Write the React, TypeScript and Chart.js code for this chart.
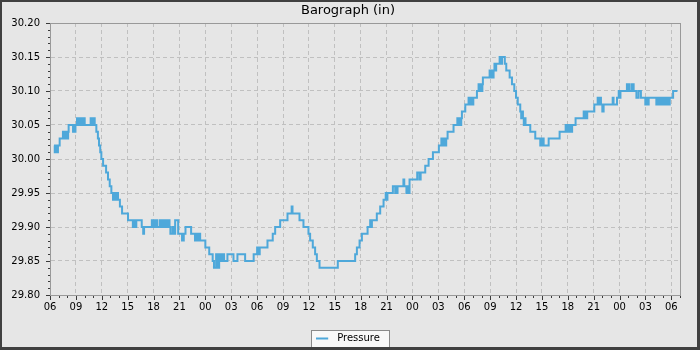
import React, { useEffect, useRef } from 'react';
import { Chart, registerables } from 'chart.js';

Chart.register(...registerables);

const TITLE = 'Barograph (in)';
const SERIES_LABEL = 'Pressure';
const LINE_COLOR = '#4ea8da';
const FONT = 'DejaVu Sans';

// hours elapsed since 06:00 on the first day
const hoursSinceStart = [
  0.46, 0.55, 0.7, 0.8, 0.92, 1.12, 1.5, 1.6, 1.7, 1.8, 1.9, 2.0, 2.1, 2.16, 2.67, 2.75, 2.85, 2.95,
  3.13, 3.3, 3.4, 3.55, 3.65, 3.75, 3.85, 4.02, 4.71, 4.8, 4.9, 5.0, 5.1, 5.18, 5.37, 5.55, 5.68, 5.82,
  5.95, 6.15, 6.5, 6.72, 6.92, 7.11, 7.3, 7.45, 7.6, 7.75, 7.88, 8.1, 8.35, 9.04, 9.6, 9.75, 9.85, 10.0,
  10.63, 10.8, 10.9, 11.8, 11.95, 12.05, 12.2, 12.3, 12.4, 12.7, 12.85, 12.95, 13.1, 13.2, 13.33, 13.45,
  13.6, 13.7, 13.85, 13.95, 14.2, 14.3, 14.5, 14.85, 15.3, 15.5, 15.7, 16.35, 16.8, 16.9, 17.0, 17.1,
  17.2, 17.3, 17.4, 18.0, 18.45, 18.85, 19.0, 19.25, 19.4, 19.6, 19.75, 19.85, 19.95, 20.05, 20.17,
  20.56, 21.26, 21.72, 22.61, 23.6, 24.0, 24.15, 24.3, 25.2, 25.81, 26.09, 26.67, 27.52, 28.0, 28.1,
  28.91, 29.37, 29.95, 30.14, 30.45, 30.72, 30.92, 31.23, 33.35, 35.36, 35.56, 35.87, 36.14, 36.8,
  37.1, 37.2, 37.3, 37.87, 38.26, 38.65, 38.9, 39.0, 39.1, 39.73, 40.0, 40.1, 40.2, 40.27, 40.95, 41.05,
  41.3, 41.45, 41.55, 41.66, 42.55, 42.8, 42.95, 43.48, 43.87, 44.37, 45.06, 45.35, 45.5, 45.6, 45.75,
  45.91, 46.07, 46.76, 47.2, 47.35, 47.45, 47.55, 47.65, 47.73, 48.12, 48.5, 48.7, 48.85, 48.95, 49.05,
  49.47, 49.66, 49.8, 49.9, 50.0, 50.1, 50.16, 50.94, 51.05, 51.15, 51.25, 51.4, 51.5, 51.6, 51.7,
  52.1, 52.3, 52.38, 52.7, 52.87, 53.26, 53.53, 53.8, 54.0, 54.2, 54.49, 54.6, 54.7, 54.8, 54.9, 55.0,
  55.1, 55.65, 56.23, 56.81, 56.9, 57.0, 57.1, 57.2, 57.78, 59.05, 59.75, 59.9, 60.0, 60.15, 60.3,
  60.4, 60.5, 60.9, 61.84, 61.9, 62.0, 62.15, 62.25, 63.07, 63.46, 63.6, 63.7, 63.84, 64.0, 64.15,
  65.2, 65.3, 65.7, 65.9, 66.0, 66.1, 66.85, 67.0, 67.05, 67.17, 67.44, 67.63, 67.95, 68.2, 68.47,
  68.98, 69.1, 69.2, 69.37, 70.26, 70.4, 70.55, 70.7, 70.85, 71.0, 71.15, 71.3, 71.45, 71.6, 71.7,
  71.81, 72.2, 72.7,
];

// barometric pressure, inches of mercury
const pressureIn = [
  30.02, 30.01, 30.02, 30.01, 30.02, 30.03, 30.04, 30.03, 30.04, 30.03, 30.04, 30.03, 30.04, 30.05, 30.04, 30.05, 30.04, 30.05,
  30.06, 30.05, 30.06, 30.05, 30.06, 30.05, 30.06, 30.05, 30.06, 30.05, 30.06, 30.05, 30.06, 30.05, 30.04, 30.03, 30.02, 30.01,
  30.0, 29.99, 29.98, 29.97, 29.96, 29.95, 29.94, 29.95, 29.94, 29.95, 29.94, 29.93, 29.92, 29.91, 29.9, 29.91, 29.9, 29.91,
  29.9, 29.89, 29.9, 29.91, 29.9, 29.91, 29.9, 29.91, 29.9, 29.91, 29.9, 29.91, 29.9, 29.91, 29.9, 29.91,
  29.9, 29.91, 29.9, 29.89, 29.9, 29.89, 29.91, 29.89, 29.88, 29.89, 29.9, 29.89, 29.88, 29.89, 29.88, 29.89,
  29.88, 29.89, 29.88, 29.87, 29.86, 29.85, 29.84, 29.86, 29.84, 29.86, 29.85, 29.86, 29.85, 29.86, 29.85,
  29.86, 29.85, 29.86, 29.85, 29.86, 29.87, 29.86, 29.87, 29.88, 29.89, 29.9, 29.91, 29.92, 29.93, 29.92,
  29.91, 29.9, 29.89, 29.88, 29.87, 29.86, 29.85, 29.84, 29.85, 29.86, 29.87, 29.88, 29.89, 29.9,
  29.91, 29.9, 29.91, 29.92, 29.93, 29.94, 29.95, 29.94, 29.95, 29.96, 29.95, 29.96, 29.95, 29.96, 29.97, 29.96,
  29.95, 29.96, 29.95, 29.97, 29.98, 29.97, 29.98, 29.99, 30.0, 30.01, 30.02, 30.03, 30.02, 30.03, 30.02,
  30.03, 30.04, 30.05, 30.06, 30.05, 30.06, 30.05, 30.06, 30.07, 30.08, 30.09, 30.08, 30.09, 30.08, 30.09,
  30.1, 30.11, 30.1, 30.11, 30.1, 30.11, 30.12, 30.13, 30.12, 30.13, 30.12, 30.13, 30.14, 30.13, 30.14,
  30.15, 30.14, 30.15, 30.14, 30.13, 30.12, 30.11, 30.1, 30.09, 30.08, 30.07, 30.06, 30.07, 30.06, 30.05, 30.06,
  30.05, 30.04, 30.03, 30.02, 30.03, 30.02, 30.03, 30.02, 30.03, 30.04, 30.05, 30.04, 30.05, 30.04, 30.05,
  30.04, 30.05, 30.06, 30.07, 30.06, 30.07, 30.06, 30.07, 30.08, 30.09, 30.08, 30.09, 30.08, 30.07, 30.08,
  30.09, 30.08, 30.09, 30.1, 30.09, 30.1, 30.11, 30.1, 30.11, 30.1, 30.11, 30.1, 30.09, 30.1, 30.09,
  30.08, 30.09, 30.08, 30.09, 30.08, 30.09, 30.08, 30.09, 30.08, 30.09, 30.08, 30.09, 30.08, 30.09, 30.08,
  30.09, 30.1, 30.1,
];

const xTickLabels = [
  '06', '09', '12', '15', '18', '21', '00', '03', '06', '09', '12', '15', '18',
  '21', '00', '03', '06', '09', '12', '15', '18', '21', '00', '03', '06',
];
const yTickLabels = ['29.80', '29.85', '29.90', '29.95', '30.00', '30.05', '30.10', '30.15', '30.20'];

const X_MIN = 0;
const X_MAX = 73;
const X_MAJOR = 3;
const X_MINOR = 1;
const Y_MIN = 29.8;
const Y_MAX = 30.2;
const Y_MAJOR = 0.05;
const Y_MINOR = 0.01;

const decorPlugin = {
  id: 'decor',
  beforeDraw(chart: any) {
    const { ctx, width, height } = chart;
    ctx.save();
    ctx.fillStyle = '#e6e6e6';
    ctx.fillRect(0, 0, width, height);
    const lg = chart.legend;
    if (lg && lg.legendHitBoxes && lg.legendHitBoxes.length) {
      const hb = lg.legendHitBoxes[0];
      const x0 = Math.round(hb.left - 5) + 0.5;
      const x1 = Math.round(hb.left + hb.width + 9) + 0.5;
      const y0 = Math.round(hb.top - 4) + 0.5;
      const y1 = Math.round(hb.top + hb.height + 4) + 0.5;
      ctx.fillStyle = '#f8f8f8';
      ctx.fillRect(x0, y0, x1 - x0, y1 - y0);
      ctx.strokeStyle = '#8a8a8a';
      ctx.lineWidth = 1;
      ctx.strokeRect(x0, y0, x1 - x0, y1 - y0);
    }
    ctx.restore();
  },
  afterDraw(chart: any) {
    const { ctx, chartArea, width, height } = chart;
    const xs = chart.scales.x;
    const ys = chart.scales.y;
    ctx.save();
    // plot frame
    const l = Math.round(chartArea.left) + 0.5;
    const r = Math.round(chartArea.right) + 0.5;
    const t = Math.round(chartArea.top) + 0.5;
    const b = Math.round(chartArea.bottom) + 0.5;
    ctx.strokeStyle = '#999999';
    ctx.lineWidth = 1;
    ctx.strokeRect(l, t, r - l, b - t);
    // tick marks
    ctx.strokeStyle = '#3a3a3a';
    ctx.beginPath();
    const nx = Math.round((X_MAX - X_MIN) / X_MINOR);
    for (let i = 0; i <= nx; i++) {
      const v = X_MIN + i * X_MINOR;
      const px = Math.round(xs.getPixelForValue(v)) + 0.5;
      const len = i % Math.round(X_MAJOR / X_MINOR) === 0 ? 4 : 2;
      ctx.moveTo(px, b + 0.5);
      ctx.lineTo(px, b + 0.5 + len);
    }
    const ny = Math.round((Y_MAX - Y_MIN) / Y_MINOR);
    for (let i = 0; i <= ny; i++) {
      const v = Y_MIN + i * Y_MINOR;
      const py = Math.round(ys.getPixelForValue(v)) + 0.5;
      const len = i % Math.round(Y_MAJOR / Y_MINOR) === 0 ? 4 : 2;
      ctx.moveTo(l - 0.5, py);
      ctx.lineTo(l - 0.5 - len, py);
    }
    ctx.stroke();
    // outer frame
    ctx.fillStyle = '#404040';
    ctx.fillRect(0, 0, width, 2);
    ctx.fillRect(0, 0, 2, height);
    ctx.fillRect(width - 3, 0, 3, height);
    ctx.fillRect(0, height - 3, width, 3);
    ctx.restore();
  },
};

export default function App() {
  const canvasRef = useRef<HTMLCanvasElement | null>(null);

  useEffect(() => {
    const canvas = canvasRef.current;
    if (!canvas) return;

    const swatch = document.createElement('canvas');
    swatch.width = 16;
    swatch.height = 4;
    const sctx = swatch.getContext('2d');
    if (sctx) {
      sctx.fillStyle = LINE_COLOR;
      sctx.fillRect(0, 1, 12, 2);
    }

    const data = hoursSinceStart.map((h, i) => ({ x: h, y: pressureIn[i] }));

    const chart = new Chart(canvas, {
      type: 'line',
      data: {
        datasets: [
          {
            label: SERIES_LABEL,
            data,
            borderColor: LINE_COLOR,
            backgroundColor: LINE_COLOR,
            borderWidth: 2,
            stepped: true,
            pointRadius: 0,
            pointHoverRadius: 0,
            fill: false,
            yAxisID: 'y',
          },
        ],
      },
      options: {
        animation: false,
        responsive: false,
        events: [],
        layout: { padding: { top: 0, left: 0, right: 4, bottom: -3.5 } },
        scales: {
          x: {
            type: 'linear',
            position: 'bottom',
            min: X_MIN,
            max: X_MAX,
            afterFit: (s: any) => {
              s.height = 34.5;
            },
            grid: {
              drawTicks: false,
              color: '#c0c0c0',
              lineWidth: 1,
            },
            border: { display: true, color: '#999999', width: 1, dash: [4, 3] },
            ticks: {
              stepSize: X_MAJOR,
              includeBounds: false,
              autoSkip: false,
              maxRotation: 0,
              padding: 6,
              color: '#000000',
              font: { family: FONT, size: 10 },
              callback: (v: any) => xTickLabels[Math.round(Number(v) / X_MAJOR)] ?? '',
            },
          },
          y: {
            type: 'linear',
            position: 'left',
            min: Y_MIN,
            max: Y_MAX,
            afterFit: (s: any) => {
              s.width = 50;
            },
            grid: {
              drawTicks: false,
              color: '#c0c0c0',
              lineWidth: 1,
            },
            border: { display: true, color: '#999999', width: 1, dash: [4, 3] },
            ticks: {
              stepSize: Y_MAJOR,
              autoSkip: false,
              padding: 10,
              color: '#000000',
              font: { family: FONT, size: 10 },
              callback: (v: any) =>
                yTickLabels.find((lab) => Math.abs(parseFloat(lab) - Number(v)) < 1e-6) ?? '',
            },
          },
          yRight: {
            type: 'linear',
            position: 'right',
            display: true,
            afterFit: (s: any) => {
              s.width = 16;
            },
            grid: { display: false, drawTicks: false },
            border: { display: false },
            ticks: { display: false },
          },
        },
        plugins: {
          title: {
            display: true,
            text: TITLE,
            color: '#000000',
            font: { family: FONT, size: 13, weight: 'normal' },
            padding: { top: 3, bottom: 4.4 },
          },
          legend: {
            display: true,
            position: 'bottom',
            labels: {
              usePointStyle: true,
              pointStyle: swatch,
              pointStyleWidth: 16,
              padding: 4,
              color: '#000000',
              font: { family: FONT, size: 10 },
            },
          },
          tooltip: { enabled: false },
        },
      },
      plugins: [decorPlugin],
    } as any);

    return () => {
      chart.destroy();
    };
  }, []);

  return (
    <div style={{ position: 'fixed', left: 0, top: 0, width: 700, height: 350 }}>
      <canvas ref={canvasRef} width={700} height={350} style={{ display: 'block' }} />
    </div>
  );
}
